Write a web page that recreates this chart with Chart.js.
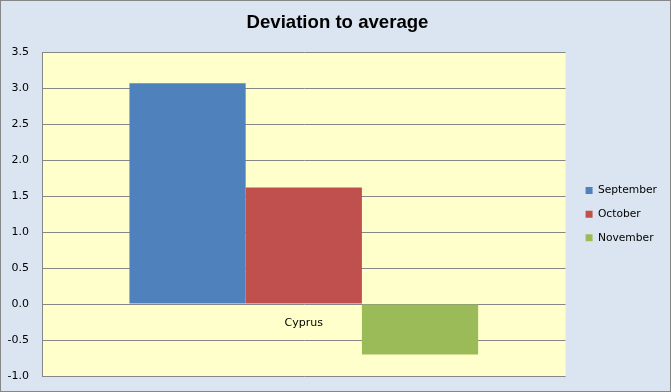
<!DOCTYPE html>
<html>
<head>
<meta charset="utf-8">
<script src="https://cdn.jsdelivr.net/npm/chart.js@4.4.1/dist/chart.umd.min.js"></script>
<style>
  html, body { margin: 0; padding: 0; background: #ffffff; }
  #wrap {
    width: 671px; height: 392px; box-sizing: border-box;
    border: 1px solid #868686; background: #dbe5f1;
  }
  canvas { display: block; }
</style>
</head>
<body>
<div id="wrap"><canvas id="chart" width="669" height="390"></canvas></div>
<script>
// values
var categories = ["Cyprus"];
var seriesNames = ["September", "October", "November"];
var september = [3.07];
var october = [1.62];
var november = [-0.70];
var yTicks = [-1.0, -0.5, 0.0, 0.5, 1.0, 1.5, 2.0, 2.5, 3.0, 3.5];

var colors = ["#4f81bd", "#c0504d", "#9bbb59"];
var gridColor = "#868686";

// yellow plot area behind the bars
var plotBackground = {
    id: "plotBackground",
    beforeDraw: function(chart) {
        var a = chart.chartArea;
        var ctx = chart.ctx;
        ctx.save();
        ctx.fillStyle = "#ffffcc";
        ctx.fillRect(a.left, a.top, a.right - a.left, a.bottom - a.top);
        ctx.restore();
    }
};

var values = [september, october, november];
var datasets = [];
for (var i = 0; i < seriesNames.length; i++) {
    datasets.push({
        label: seriesNames[i],
        data: values[i],
        backgroundColor: colors[i],
        borderWidth: 0,
        categoryPercentage: 0.666,
        barPercentage: 1.0
    });
}

new Chart(document.getElementById("chart"), {
    type: "bar",
    data: { labels: categories, datasets: datasets },
    plugins: [plotBackground],
    options: {
        responsive: false,
        animation: false,
        layout: { padding: { left: 7, right: 3, top: 0, bottom: 15 } },
        plugins: {
            tooltip: { enabled: false },
            title: {
                display: true,
                text: "Deviation to average",
                color: "#000000",
                font: { family: "'Liberation Sans', Arial, sans-serif", size: 18.6, weight: "bold" },
                padding: { top: 11, bottom: 18 }
            },
            legend: {
                position: "right",
                fullSize: false,
                labels: {
                    color: "#000000",
                    font: { family: "'DejaVu Sans', Verdana, sans-serif", size: 10.7 },
                    boxWidth: 7,
                    boxHeight: 7,
                    padding: 13
                }
            }
        },
        scales: {
            x: {
                position: { y: 0 },
                grid: { display: false, drawTicks: false },
                border: { display: false },
                ticks: {
                    color: "#000000",
                    padding: 12,
                    font: { family: "'DejaVu Sans', Verdana, sans-serif", size: 11 }
                }
            },
            y: {
                min: -1,
                max: 3.5,
                afterBuildTicks: function(scale) {
                    scale.ticks = yTicks.map(function(v) { return { value: v }; });
                },
                afterFit: function(scale) {
                    scale.width = 34;
                    scale.paddingTop = 0;
                    scale.paddingBottom = 0;
                },
                grid: { color: gridColor, lineWidth: 1, drawTicks: false },
                border: { display: true, color: gridColor },
                ticks: {
                    color: "#000000",
                    padding: 13,
                    font: { family: "'DejaVu Sans', Verdana, sans-serif", size: 11 },
                    callback: function(v) { return Number(v).toFixed(1); }
                }
            },
            // spacer between plot and legend
            gap: {
                position: "right",
                display: true,
                grid: { display: false, drawTicks: false },
                border: { display: false },
                ticks: { display: false },
                afterFit: function(scale) { scale.width = 7; }
            }
        }
    }
});
</script>
</body>
</html>
